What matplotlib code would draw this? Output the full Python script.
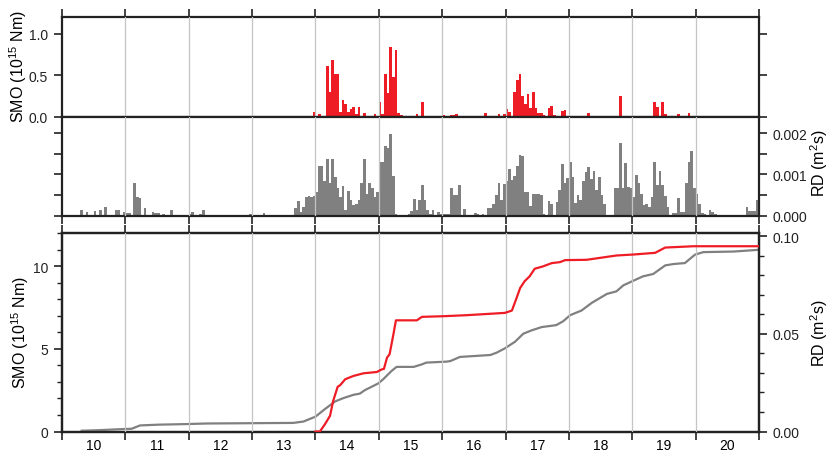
import numpy as np
import matplotlib
matplotlib.use("Agg")
import matplotlib.pyplot as plt
from matplotlib.ticker import MultipleLocator, FixedLocator, NullFormatter, FixedFormatter, FormatStrFormatter

plt.rcParams['font.family'] = ['Liberation Sans', 'DejaVu Sans']
plt.rcParams['mathtext.fontset'] = 'custom'
plt.rcParams['mathtext.rm'] = 'Liberation Sans'

days = [10, 11, 12, 13, 14, 15, 16, 17, 18, 19, 20]

# hourly seismic moment (10^15 Nm), one list of 24 hours per day
smo_10 = [0.0] * 24
smo_11 = [0.0] * 24
smo_12 = [0.0] * 24
smo_13 = [0.0] * 23 + [0.05]
smo_14 = [0, 0.03, 0, 0, 0.61, 0.30, 0.68, 0.52, 0.52, 0.05, 0.20, 0.15,
          0.05, 0.09, 0.12, 0.03, 0.12, 0, 0.04, 0, 0, 0, 0.03, 0]
smo_15 = [0.17, 0.03, 0.52, 0.28, 0.84, 0.48, 0.80, 0.04, 0.02, 0, 0, 0,
          0, 0, 0.03, 0, 0.17, 0, 0, 0, 0, 0, 0, 0]
smo_16 = [0.02, 0, 0, 0.02, 0.02, 0.03, 0, 0, 0, 0, 0, 0,
          0, 0, 0, 0, 0.04, 0, 0, 0, 0, 0.03, 0, 0.03]
smo_17 = [0.09, 0.06, 0, 0.30, 0.44, 0.51, 0.25, 0.15, 0.27, 0.10, 0.30, 0.10,
          0.04, 0.04, 0.02, 0, 0.10, 0.13, 0.02, 0, 0, 0.07, 0.08, 0]
smo_18 = [0, 0, 0, 0, 0, 0, 0, 0.04, 0, 0, 0, 0,
          0, 0, 0, 0, 0, 0, 0, 0.25, 0, 0, 0, 0]
smo_19 = [0, 0, 0, 0, 0, 0, 0, 0, 0.17, 0.11, 0, 0.18,
          0.03, 0, 0, 0, 0, 0.03, 0, 0, 0, 0.04, 0, 0]
smo_20 = [0.0] * 24

# hourly released deformation (10^-3 m^2 s)
rd_10 = [0, 0, 0, 0, 0, 0, 0, 0.13, 0, 0.08, 0, 0,
         0.12, 0, 0.14, 0, 0.20, 0, 0, 0, 0.14, 0.15, 0, 0.08]
rd_11 = [0.07, 0.06, 0, 0.80, 0.45, 0.42, 0, 0.18, 0, 0, 0.08, 0.07,
         0.06, 0, 0.04, 0, 0, 0.14, 0, 0, 0, 0, 0, 0]
rd_12 = [0.05, 0.10, 0, 0, 0.05, 0.14, 0, 0, 0, 0, 0, 0,
         0, 0, 0, 0, 0, 0, 0, 0, 0, 0, 0, 0.04]
rd_13 = [0, 0, 0, 0, 0.06, 0, 0, 0, 0, 0, 0, 0,
         0, 0, 0, 0, 0.18, 0.35, 0.10, 0.20, 0.45, 0.48, 0.45, 0.48]
rd_14 = [0.57, 1.20, 1.20, 0.85, 1.38, 0.78, 1.38, 0.94, 0.66, 0.45, 0.71, 0.13,
         0.60, 0.39, 0.27, 0.28, 0.38, 0.78, 1.38, 0.52, 0.78, 0.68, 0.45, 0.57]
rd_15 = [1.30, 1.30, 1.68, 1.64, 1.98, 0.95, 0.05, 0, 0, 0, 0, 0.05,
         0.11, 0.40, 0.15, 0.37, 0.75, 0.37, 0.13, 0.05, 0.13, 0, 0.10, 0.05]
rd_16 = [0.03, 0.05, 0.03, 0.67, 0.49, 0.49, 0.74, 0, 0.17, 0, 0, 0,
         0.07, 0.05, 0, 0.05, 0, 0.19, 0.19, 0.28, 0.49, 0.80, 0.37, 0.76]
rd_17 = [0.84, 1.14, 0.86, 0.96, 1.20, 1.47, 1.44, 0.57, 0.57, 0.23, 0.53, 0.52,
         0.52, 0.49, 0.05, 0, 0.36, 0.28, 0, 0.33, 0.62, 1.26, 0.79, 0.92]
rd_18 = [1.30, 0.94, 0.30, 0.50, 0.38, 0.85, 1.05, 1.18, 0.90, 1.07, 0.62, 0.94,
         0.50, 0.28, 0, 0, 0, 0.66, 0.66, 1.75, 0.66, 1.28, 0.70, 0.66]
rd_19 = [0.45, 0.98, 0.78, 0.52, 0.25, 0.28, 0.21, 0.45, 1.30, 0.74, 1.08, 0.74,
         0.47, 0.21, 0, 0.06, 0.06, 0.44, 0.09, 0.09, 0.78, 1.30, 1.56, 0.68]
rd_20 = [0.52, 0.28, 0.06, 0.03, 0, 0.15, 0.09, 0.03, 0.02, 0, 0, 0,
         0, 0, 0, 0, 0, 0, 0, 0.20, 0.11, 0.11, 0.11, 0.37]

# cumulative curves
smo_cum_t = [14.0, 14.07, 14.15, 14.23, 14.28, 14.35, 14.39, 14.47, 14.6, 14.76, 14.87,
             14.97, 15.05, 15.08, 15.13, 15.17, 15.23, 15.27, 15.6, 15.68, 16.02, 16.38,
             16.99, 17.1, 17.17, 17.23, 17.3, 17.38, 17.46, 17.59, 17.73, 17.86, 17.94,
             18.28, 18.75, 19.02, 19.36, 19.52, 19.97, 21.0]
smo_cum_v = [0, 0, 0.44, 0.95, 1.85, 2.7, 2.8, 3.16, 3.36, 3.52, 3.56,
             3.6, 3.76, 3.78, 4.47, 4.67, 5.87, 6.72, 6.72, 6.93, 6.97, 7.03,
             7.17, 7.31, 8.03, 8.67, 9.08, 9.38, 9.84, 9.98, 10.18, 10.24, 10.36,
             10.38, 10.64, 10.7, 10.8, 11.12, 11.2, 11.2]
rd_cum_t = [10.31, 10.6, 11.0, 11.1, 11.23, 11.52, 11.96, 12.28, 13.65, 13.81, 14.0,
            14.15, 14.31, 14.44, 14.6, 14.7, 14.78, 14.99, 15.07, 15.2, 15.28, 15.55,
            15.68, 15.75, 16.07, 16.13, 16.28, 16.76, 16.86, 16.99, 17.15, 17.28, 17.41,
            17.57, 17.8, 17.91, 18.02, 18.2, 18.36, 18.6, 18.75, 18.86, 19.02, 19.17,
            19.33, 19.52, 19.65, 19.83, 19.99, 20.12, 20.6, 21.0]
rd_cum_v = [0.0004, 0.0007, 0.0013, 0.0014, 0.0031, 0.0035, 0.0038, 0.0041, 0.0044, 0.0051, 0.0076,
            0.0115, 0.0154, 0.0171, 0.0188, 0.0194, 0.0212, 0.0246, 0.0268, 0.031, 0.0331, 0.0331,
            0.0344, 0.0353, 0.0358, 0.0361, 0.0382, 0.0392, 0.0404, 0.0426, 0.046, 0.0501, 0.0518,
            0.0535, 0.0545, 0.0565, 0.0596, 0.062, 0.0659, 0.0705, 0.0718, 0.0749, 0.0773, 0.0795,
            0.0807, 0.0851, 0.0858, 0.0863, 0.0906, 0.0919, 0.0922, 0.0931]

RED = '#ee1c25'
GRAY = '#808080'
FRAME = '#222222'

smo = np.concatenate([smo_10, smo_11, smo_12, smo_13, smo_14, smo_15, smo_16,
                      smo_17, smo_18, smo_19, smo_20])
rd = np.concatenate([rd_10, rd_11, rd_12, rd_13, rd_14, rd_15, rd_16,
                     rd_17, rd_18, rd_19, rd_20]) * 1e-3
hours = np.concatenate([d + np.arange(24) / 24.0 for d in days])

fig = plt.figure(figsize=(8.29, 4.60), dpi=100)
W, H = 829.0, 460.0
left = 62 / W
width = (759 - 62) / W
ax1 = fig.add_axes([left, 1 - 117.5 / H, width, 99.2 / H])
ax2 = fig.add_axes([left, 1 - 216.7 / H, width, 99.2 / H])
ax3 = fig.add_axes([left, 1 - 432.5 / H, width, 198.5 / H])
ax3r = ax3.twinx()


def frame(ax):
    for s in ax.spines.values():
        s.set_linewidth(1.6)
        s.set_color(FRAME)


def xstyle(ax, top=False, bottom=False, labels=False):
    ax.set_xlim(10, 21)
    ax.xaxis.set_major_locator(MultipleLocator(1))
    ax.xaxis.set_major_formatter(NullFormatter())
    ax.xaxis.set_minor_locator(FixedLocator([d + 0.5 for d in days]))
    if labels:
        ax.xaxis.set_minor_formatter(FixedFormatter([str(d) for d in days]))
    else:
        ax.xaxis.set_minor_formatter(NullFormatter())
    ax.tick_params(axis='x', which='major', direction='out', length=6, width=1.2,
                   top=top, bottom=bottom, colors=FRAME)
    ax.tick_params(axis='x', which='minor', length=0, labelsize=10, pad=5,
                   top=False, bottom=labels)
    for v in range(11, 21):
        ax.axvline(v, color='#c4c4c4', lw=0.9, zorder=3)


# top: hourly SMO
ax1.bar(hours, smo, width=1 / 24.0, align='edge', color=RED, linewidth=0, zorder=2)
ax1.set_ylim(0, 1.2)
ax1.yaxis.set_major_locator(FixedLocator([0, 0.5, 1.0]))
ax1.yaxis.set_major_formatter(FormatStrFormatter('%.1f'))
ax1.tick_params(axis='y', direction='out', length=6, width=1.2, left=True, right=True,
                labelleft=True, labelright=False, labelsize=10, pad=4, colors=FRAME)
xstyle(ax1, top=True)
frame(ax1)

# middle: hourly RD
ax2.bar(hours, rd, width=1 / 24.0, align='edge', color=GRAY, linewidth=0, zorder=2)
ax2.set_ylim(0, 0.0024)
ax2.yaxis.set_major_locator(FixedLocator([0, 0.001, 0.002]))
ax2.yaxis.set_major_formatter(FormatStrFormatter('%.3f'))
ax2.yaxis.set_minor_locator(FixedLocator([0.0005, 0.0015]))
ax2.tick_params(axis='y', which='both', direction='out', length=6, width=1.2, left=True,
                right=True, labelleft=False, labelright=True, labelsize=10, pad=4,
                colors=FRAME)
xstyle(ax2, bottom=True)
frame(ax2)

# bottom: cumulative curves
ax3r.plot(rd_cum_t, rd_cum_v, color=GRAY, lw=1.6, zorder=4)
ax3.plot(smo_cum_t, smo_cum_v, color=RED, lw=1.6, zorder=4)
ax3.set_zorder(ax3r.get_zorder() + 1)
ax3.patch.set_visible(False)
ax3.set_ylim(0, 12)
ax3.yaxis.set_major_locator(FixedLocator([0, 5, 10]))
ax3.yaxis.set_minor_locator(MultipleLocator(1))
ax3.tick_params(axis='y', which='major', direction='out', length=6, width=1.2,
                labelsize=10, pad=4, colors=FRAME)
ax3.tick_params(axis='y', which='minor', direction='out', length=3.5, width=1.0,
                colors=FRAME)
ax3r.set_ylim(0, 0.1017)
ax3r.yaxis.set_major_locator(FixedLocator([0, 0.05, 0.10]))
ax3r.yaxis.set_major_formatter(FormatStrFormatter('%.2f'))
ax3r.yaxis.set_minor_locator(MultipleLocator(0.01))
ax3r.tick_params(axis='y', which='major', direction='out', length=6, width=1.2,
                 labelsize=10, pad=4, colors=FRAME)
ax3r.tick_params(axis='y', which='minor', direction='out', length=3.5, width=1.0,
                 colors=FRAME)
ax3r.set_xlim(10, 21)
xstyle(ax3, top=True, bottom=True, labels=True)
ax3r.tick_params(axis='x', which='both', top=False, bottom=False)
frame(ax3)
frame(ax3r)

smo_label = 'SMO (10$^{15}$ Nm)'
rd_label = 'RD (m$^{2}$s)'
fig.text(18 / W, 1 - 67 / H, smo_label, rotation=90, ha='center', va='center', fontsize=11.5)
fig.text(20 / W, 1 - 333 / H, smo_label, rotation=90, ha='center', va='center', fontsize=11.5)
fig.text(819 / W, 1 - 163 / H, rd_label, rotation=90, ha='center', va='center', fontsize=11.5)
fig.text(819 / W, 1 - 333 / H, rd_label, rotation=90, ha='center', va='center', fontsize=11.5)

fig.savefig('out.png', dpi=100)
